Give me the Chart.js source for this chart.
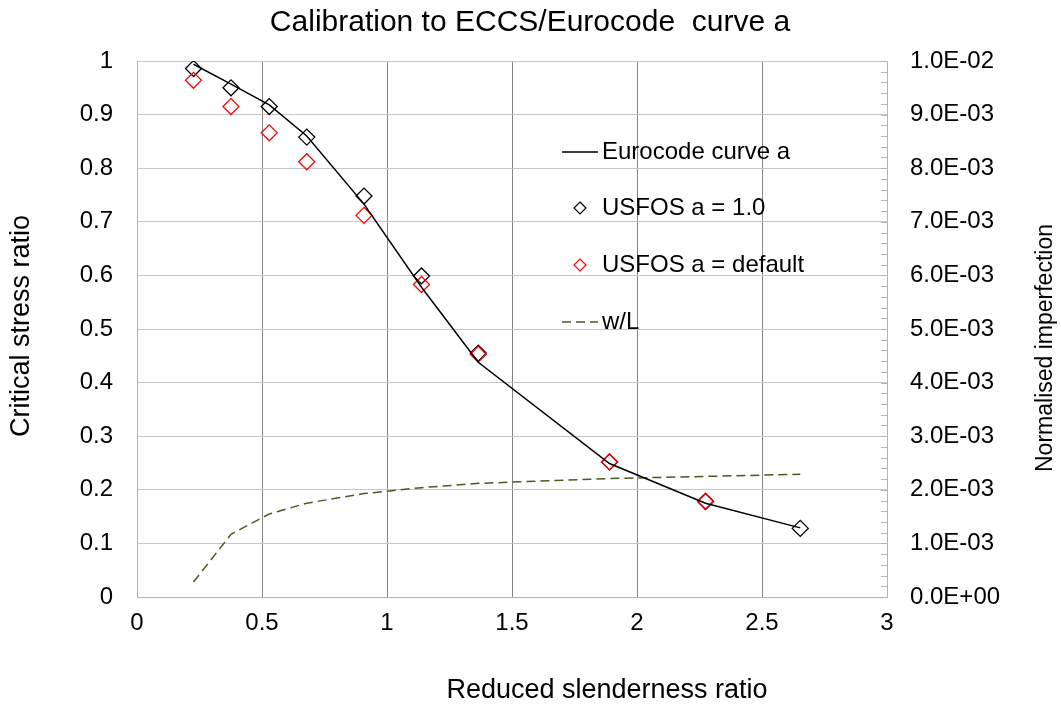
<!DOCTYPE html>
<html>
<head>
<meta charset="utf-8">
<script src="https://cdn.jsdelivr.net/npm/chart.js@4.4.1/dist/chart.umd.min.js"></script>
<style>
  html, body { margin: 0; padding: 0; background: #fff; }
  #wrap { width: 1061px; height: 706px; }
</style>
</head>
<body>
<div id="wrap"><canvas id="calibChart" width="1061" height="706"></canvas></div>
<script>
// reduced slenderness values of the analysed members
const slenderness = [0.226, 0.376, 0.529, 0.679, 0.908, 1.138, 1.365, 1.89, 2.274, 2.653];
const eurocodeA = [0.994, 0.957, 0.918, 0.86, 0.733, 0.578, 0.438, 0.249, 0.175, 0.129];
const usfosOne = [0.986, 0.950, 0.915, 0.858, 0.748, 0.599, 0.455, 0.252, 0.178, 0.128];
const usfosDefault = [0.964, 0.915, 0.866, 0.812, 0.712, 0.583, 0.453, 0.252, 0.179, null];
const wOverL = [0.00028, 0.00117, 0.00155, 0.00175, 0.00193, 0.00204, 0.00212, 0.00221, 0.00225, 0.00229];

const xTicks = { min: 0, max: 3, step: 0.5 };
const yTicks = { min: 0, max: 1, step: 0.1 };
const y2Ticks = { min: 0, max: 0.01, step: 0.001 };

const FONT = "'Liberation Sans', Arial, sans-serif";

function pairs(ys) {
    const out = [];
    ys.forEach(function(v, i) {
        if (v !== null) out.push({ x: slenderness[i], y: v });
    });
    return out;
}

function plain(v) {
    // 1.0 -> "1", 0.5 -> "0.5"
    return String(Number(Number(v).toFixed(2)));
}

function sci(v) {
    // 0.001 -> 1.0E-03
    const s = Number(v).toExponential(1).split('e');
    const sign = s[1][0] === '-' ? '-' : '+';
    const exp = Math.abs(parseInt(s[1], 10));
    return s[0] + 'E' + sign + (exp < 10 ? '0' + exp : exp);
}

// titles, legend and the inward minor ticks of the right axis
const decorations = {
    id: 'decorations',
    afterDraw(chart) {
        const ctx = chart.ctx;
        const y2 = chart.scales.y2;
        const area = chart.chartArea;

        ctx.save();
        ctx.strokeStyle = '#b4b4b4';
        ctx.lineWidth = 1;
        for (let i = 0; i <= 50; i++) {
            const py = Math.round(y2.getPixelForValue(i * 0.0002)) + 0.5;
            ctx.beginPath();
            ctx.moveTo(area.right - 6, py);
            ctx.lineTo(area.right, py);
            ctx.stroke();
        }

        ctx.fillStyle = '#000';
        ctx.textAlign = 'center';
        ctx.textBaseline = 'middle';
        ctx.font = '30px ' + FONT;
        ctx.fillText('Calibration to ECCS/Eurocode  curve a', 530, 23);

        ctx.font = '27px ' + FONT;
        ctx.fillText('Reduced slenderness ratio', 607, 691);

        ctx.save();
        ctx.translate(22, 326);
        ctx.rotate(-Math.PI / 2);
        ctx.fillText('Critical stress ratio', 0, 0);
        ctx.restore();

        ctx.font = '23px ' + FONT;
        ctx.save();
        ctx.translate(1046, 348);
        ctx.rotate(-Math.PI / 2);
        ctx.fillText('Normalised imperfection', 0, 0);
        ctx.restore();

        // legend
        const rows = [152, 208, 265, 322];
        const sets = chart.data.datasets;
        ctx.font = '24px ' + FONT;
        ctx.textAlign = 'left';
        sets.forEach(function(ds, i) {
            const ly = rows[i];
            if (ds.showLine === false) {
                ctx.strokeStyle = ds.borderColor;
                ctx.lineWidth = 1.2;
                ctx.beginPath();
                ctx.moveTo(580, ly - 6);
                ctx.lineTo(586, ly);
                ctx.lineTo(580, ly + 6);
                ctx.lineTo(574, ly);
                ctx.closePath();
                ctx.stroke();
            } else {
                ctx.strokeStyle = ds.borderColor;
                ctx.lineWidth = ds.borderWidth;
                ctx.setLineDash(ds.borderDash || []);
                ctx.beginPath();
                ctx.moveTo(562, ly);
                ctx.lineTo(598, ly);
                ctx.stroke();
                ctx.setLineDash([]);
            }
            ctx.fillStyle = '#000';
            ctx.fillText(ds.label, 602, ly);
        });
        ctx.restore();
    }
};

const calibCtx = document.getElementById('calibChart').getContext('2d');
new Chart(calibCtx, {
    type: 'scatter',
    data: {
        datasets: [{
            label: 'Eurocode curve a',
            data: pairs(eurocodeA),
            showLine: true,
            borderColor: '#000000',
            borderWidth: 1.5,
            pointRadius: 0,
            order: 0,
            yAxisID: 'y'
        }, {
            label: 'USFOS a = 1.0',
            data: pairs(usfosOne),
            showLine: false,
            pointStyle: 'rectRot',
            pointRadius: 8,
            pointBorderWidth: 1.3,
            borderColor: '#000000',
            backgroundColor: 'rgba(0,0,0,0)',
            order: 2,
            yAxisID: 'y'
        }, {
            label: 'USFOS a = default',
            data: pairs(usfosDefault),
            showLine: false,
            pointStyle: 'rectRot',
            pointRadius: 8,
            pointBorderWidth: 1.3,
            borderColor: '#ff0000',
            backgroundColor: 'rgba(0,0,0,0)',
            order: 1,
            yAxisID: 'y'
        }, {
            label: 'w/L',
            data: pairs(wOverL),
            showLine: true,
            borderColor: '#4b5a1e',
            borderWidth: 1.5,
            borderDash: [9, 5],
            pointRadius: 0,
            order: 3,
            yAxisID: 'y2'
        }]
    },
    options: {
        responsive: false,
        animation: false,
        devicePixelRatio: 1,
        layout: { padding: { top: 61, left: 0, right: 0, bottom: 0 } },
        plugins: {
            legend: { display: false },
            title: { display: false },
            tooltip: { enabled: false }
        },
        scales: {
            x: {
                type: 'linear',
                min: xTicks.min,
                max: xTicks.max,
                afterFit: function(s) { s.height = 109; },
                ticks: {
                    stepSize: xTicks.step,
                    color: '#000',
                    padding: 12,
                    font: { family: FONT, size: 24 },
                    callback: function(v) { return plain(v); }
                },
                grid: {
                    drawTicks: false,
                    color: function(c) {
                        return (c.tick && (c.tick.value === 0 || c.tick.value === 3)) ? '#b4b4b4' : '#868686';
                    }
                },
                border: { color: '#b4b4b4' }
            },
            y: {
                position: 'left',
                min: yTicks.min,
                max: yTicks.max,
                afterFit: function(s) { s.width = 137; },
                ticks: {
                    stepSize: yTicks.step,
                    color: '#000',
                    padding: 24,
                    font: { family: FONT, size: 24 },
                    callback: function(v) { return plain(v); }
                },
                grid: { drawTicks: false, color: '#c6c6c6' },
                border: { color: '#b4b4b4' }
            },
            y2: {
                position: 'right',
                min: y2Ticks.min,
                max: y2Ticks.max,
                afterFit: function(s) { s.width = 174; },
                ticks: {
                    stepSize: y2Ticks.step,
                    color: '#000',
                    padding: 23,
                    font: { family: FONT, size: 24 },
                    callback: function(v) { return sci(v); }
                },
                grid: { drawTicks: false, drawOnChartArea: false },
                border: { color: '#b4b4b4' }
            }
        }
    },
    plugins: [decorations]
});
</script>
</body>
</html>
